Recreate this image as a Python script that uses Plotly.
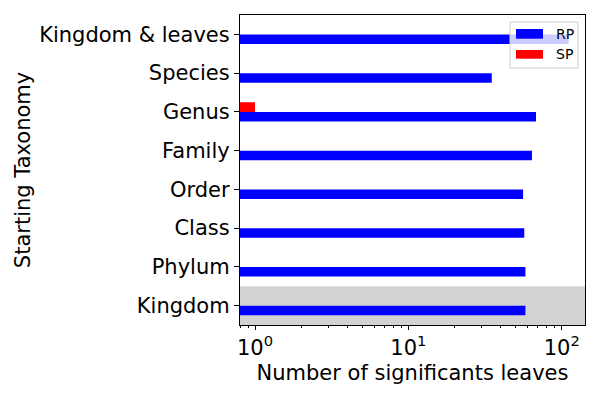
import plotly.graph_objects as go

categories = ["Kingdom", "Phylum", "Class", "Order", "Family", "Genus", "Species", "Kingdom & leaves"]
rp_values = [58, 58, 57, 56, 64, 68, 35, 111]
sp_values = [0, 0, 0, 0, 0, 1, 0, 0]
tick_vals = [1, 10, 100]
tick_text = ["10<sup>0</sup>", "10<sup>1</sup>", "10<sup>2</sup>"]
minor_vals = [m * d for d in (0.1, 1, 10) for m in range(2, 10)]

FONT = "DejaVu Sans"
L, R, T, B = 240, 585, 15, 325


def px(x):
    return (x - L) / (R - L)


def py(y):
    return (B - y) / (B - T)


fig = go.Figure()
fig.add_trace(go.Bar(y=categories, x=rp_values, orientation="h", name="RP",
                     marker=dict(color="blue", line=dict(width=0))))
fig.add_trace(go.Bar(y=categories, x=sp_values, orientation="h", name="SP",
                     marker=dict(color="red", line=dict(width=0))))

fig.add_shape(type="rect", xref="paper", yref="y", x0=0, x1=1, y0=-0.5, y1=0.5,
              fillcolor="lightgray", line=dict(width=0), layer="below")

# legend (drawn manually to match wide patch handles)
fig.add_shape(type="rect", xref="paper", yref="paper", x0=px(510), x1=px(578), y0=py(68), y1=py(22),
              fillcolor="rgba(255,255,255,0.8)", line=dict(color="#cccccc", width=1), layer="above")
legend_items = [("RP", "blue", 29, 38.7), ("SP", "red", 50, 58.7)]
for name, color, ytop, ybot in legend_items:
    fig.add_shape(type="rect", xref="paper", yref="paper", x0=px(516), x1=px(543), y0=py(ybot), y1=py(ytop),
                  fillcolor=color, line=dict(width=0), layer="above")
    fig.add_annotation(xref="paper", yref="paper", x=px(554), y=py((ytop + ybot) / 2), text=name,
                       showarrow=False, xanchor="left", yanchor="middle",
                       font=dict(size=14, family=FONT, color="black"))

fig.update_layout(
    width=600, height=400,
    margin=dict(l=L, r=600 - R, t=T, b=400 - B, autoexpand=False),
    plot_bgcolor="white", paper_bgcolor="white",
    barmode="group", bargap=0.5, bargroupgap=0,
    font=dict(family=FONT, color="black", size=21),
    showlegend=False,
)
fig.update_xaxes(type="log", range=[-0.098, 2.152], automargin=False,
                 tickvals=tick_vals, ticktext=tick_text,
                 ticks="outside", ticklen=4, tickwidth=1, tickcolor="black",
                 minor=dict(ticks="outside", ticklen=2, tickcolor="black", tickvals=minor_vals, showgrid=False),
                 showline=True, linecolor="black", linewidth=1.2, mirror=True,
                 showgrid=False, zeroline=False,
                 title=dict(text="Number of significants leaves", font=dict(size=21), standoff=6),
                 tickfont=dict(size=21))
fig.update_yaxes(type="category", categoryorder="array", categoryarray=categories,
                 range=[-0.5, 7.5], automargin=False,
                 ticks="outside", ticklen=5, tickwidth=1, tickcolor="black",
                 showline=True, linecolor="black", linewidth=1.2, mirror=True,
                 showgrid=False, zeroline=False,
                 title=dict(text="Starting Taxonomy", font=dict(size=21), standoff=2),
                 tickfont=dict(size=21))

fig.write_html("out.html", config={"displayModeBar": False},
               post_script="document.body.style.margin='0';document.body.style.overflow='hidden';")
